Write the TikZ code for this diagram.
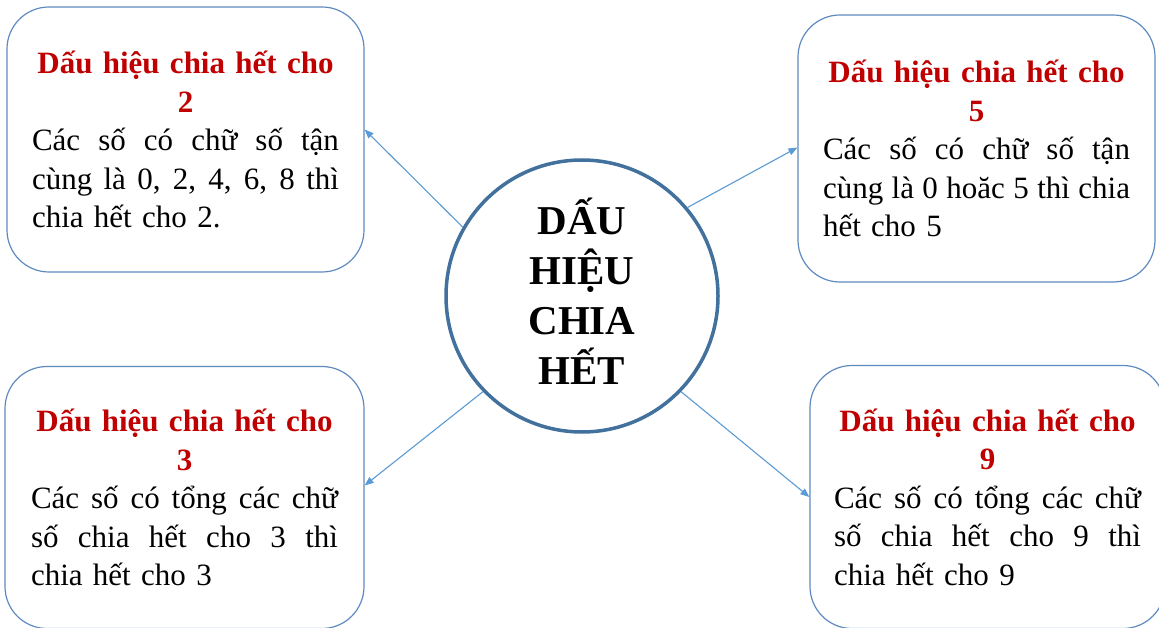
\documentclass[tikz,border=0pt]{standalone}
\usepackage{fontspec}
\setmainfont{Liberation Serif}
\usetikzlibrary{arrows.meta}
\definecolor{titlered}{HTML}{C00000}
\definecolor{circblue}{HTML}{41719C}
\definecolor{boxblue}{HTML}{5E8AC0}
\definecolor{arrblue}{HTML}{5B9BD5}
\newcommand{\jline}[1]{{\spaceskip=.25em plus 1fil\xspaceskip=.25em plus 1fil\makebox[307pt][s]{#1}}\par}
\newcommand{\btitle}[1]{{\centering\color{titlered}\bfseries Dấu hiệu chia hết cho\\#1\par}}
\begin{document}
\begin{tikzpicture}[x=1pt,y=-1pt,
  infobox/.style={draw=boxblue, line width=1.2pt, rounded corners=42pt, fill=white,
    text width=307pt, inner sep=0pt, font=\fontsize{31}{38.5}\selectfont},
  hub/.style={circle, draw=circblue, line width=3.5pt, minimum size=272pt, inner sep=0pt},
  hubtext/.style={align=center, inner sep=0pt, font=\fontsize{41}{50}\selectfont\bfseries},
  link/.style={draw=arrblue, line width=1.1pt, -{Triangle[length=9pt,width=7pt]}}]
\useasboundingbox (0,0) rectangle (1159,628);
\clip (0,0) rectangle (1159,628);
\fill[white] (0,0) rectangle (1159,628);

\node[infobox, minimum width=357pt, minimum height=265pt] (b2) at (185.5,139.5) {%
  \btitle{2}%
  \jline{Các số có chữ số tận}%
  \jline{cùng là 0, 2, 4, 6, 8 thì}%
  chia hết cho 2.\par};

\node[infobox, minimum width=357pt, minimum height=267pt] (b5) at (976.5,148.5) {%
  \btitle{5}%
  \jline{Các số có chữ số tận}%
  \jline{cùng là 0 hoăc 5 thì chia}%
  hết cho 5\par};

\node[infobox, minimum width=359pt, minimum height=262pt] (b3) at (184.5,497.5) {%
  \btitle{3}%
  \jline{Các số có tổng các chữ}%
  \jline{số chia hết cho 3 thì}%
  chia hết cho 3\par};

\node[infobox, minimum width=355pt, minimum height=263pt] (b9) at (987.5,497) {%
  \btitle{9}%
  \jline{Các số có tổng các chữ}%
  \jline{số chia hết cho 9 thì}%
  chia hết cho 9\par};

\node[hub] (c) at (582,296) {};
\node[hubtext] (ct) at (582,291) {DẤU\\HIỆU\\CHIA\\HẾT};

\draw[link] (c.150.6) -- ([yshift=10pt]b2.east);
\draw[link] (c.40.3) -- ([yshift=1pt]b5.west);
\draw[link] (c.224) -- ([yshift=12pt]b3.east);
\draw[link] (c.316) -- ([yshift=0pt]b9.west);
\end{tikzpicture}
\end{document}
